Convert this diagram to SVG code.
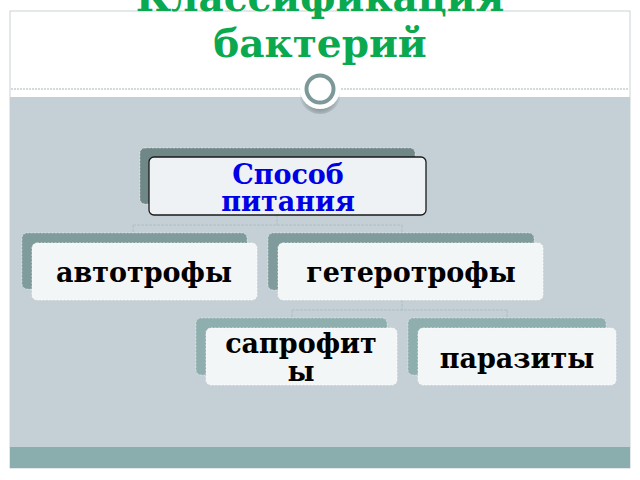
<svg xmlns="http://www.w3.org/2000/svg" width="640" height="480" viewBox="0 0 640 480">
<defs>
<style>
.t{font-family:"DejaVu Serif","Liberation Serif",serif;font-weight:bold;text-anchor:middle}
.lbl{font-size:27px;fill:#000}
.back{stroke:#ffffff;stroke-opacity:0.6;stroke-width:0.7;stroke-dasharray:2 1.5}
.front{fill:#F3F6F7;stroke:#ffffff;stroke-width:0.7;stroke-dasharray:2 1.5}
.conn{fill:none;stroke:#AEBEC2;stroke-width:1;stroke-dasharray:3 1}
</style>
<radialGradient id="sh" cx="0.5" cy="0.6" r="0.5">
<stop offset="0.6" stop-color="#5a6b6b" stop-opacity="0.5"/>
<stop offset="1" stop-color="#5a6b6b" stop-opacity="0"/>
</radialGradient>
</defs>
<rect width="640" height="480" fill="#ffffff"/>
<g id="frame">
<rect x="10" y="11" width="620" height="457" fill="#ffffff" stroke="#C8D2D6" stroke-width="1"/>
<rect x="10" y="97" width="620" height="350" fill="#C5D0D6"/>
<rect x="10" y="447" width="620" height="21" fill="#8AADAD"/>
<line x1="11" y1="89" x2="629" y2="89" stroke="#A9B6BA" stroke-width="1" stroke-dasharray="2 1"/>
</g>
<g id="title">
<text class="t" x="320" y="11" font-size="39" fill="#0AA84F">Классификация</text>
<text class="t" x="320" y="57" font-size="39" fill="#0AA84F">бактерий</text>
</g>
<g id="ornament">
<circle cx="320" cy="93" r="21" fill="url(#sh)"/>
<circle cx="320" cy="89" r="20" fill="#ffffff"/>
<circle cx="320" cy="89" r="13.5" fill="#ffffff" stroke="#7D9898" stroke-width="4"/>
</g>
<g id="connectors">
<path class="conn" d="M277 215 V225 M133 225 H402 M133 225 V233 M402 225 V233"/>
<path class="conn" d="M402 300 V310 M292 310 H507 M292 310 V318 M507 310 V318"/>
</g>
<g id="node-sposob">
<rect class="back" x="140" y="148" width="275" height="56" rx="5" fill="#6F8787"/>
<rect x="149" y="157" width="277" height="58" rx="5" fill="#EEF2F4" stroke="#1a1a1a" stroke-width="1.3"/>
<text class="t" x="288" y="184" font-size="27" fill="#0000E6">Способ</text>
<text class="t" x="288" y="211" font-size="27" fill="#0000E6">питания</text>
</g>
<g id="node-avto">
<rect class="back" x="22" y="233" width="225" height="56" rx="5" fill="#7F9B9B"/>
<rect class="front" x="32" y="243" width="225" height="57" rx="5"/>
<text class="t lbl" x="144" y="282">автотрофы</text>
</g>
<g id="node-getero">
<rect class="back" x="268" y="233" width="266" height="57" rx="5" fill="#7F9B9B"/>
<rect class="front" x="278" y="243" width="265" height="57" rx="5"/>
<text class="t lbl" x="411" y="282">гетеротрофы</text>
</g>
<g id="node-sapro">
<rect class="back" x="196" y="318" width="191" height="57" rx="5" fill="#8FAEAE"/>
<rect class="front" x="206" y="328" width="191" height="57" rx="5"/>
<text class="t lbl" x="301" y="353">сапрофит</text>
<text class="t lbl" x="301" y="381">ы</text>
</g>
<g id="node-parazit">
<rect class="back" x="408" y="318" width="198" height="57" rx="5" fill="#8FAEAE"/>
<rect class="front" x="418" y="328" width="198" height="57" rx="5"/>
<text class="t lbl" x="517" y="368">паразиты</text>
</g>
</svg>
